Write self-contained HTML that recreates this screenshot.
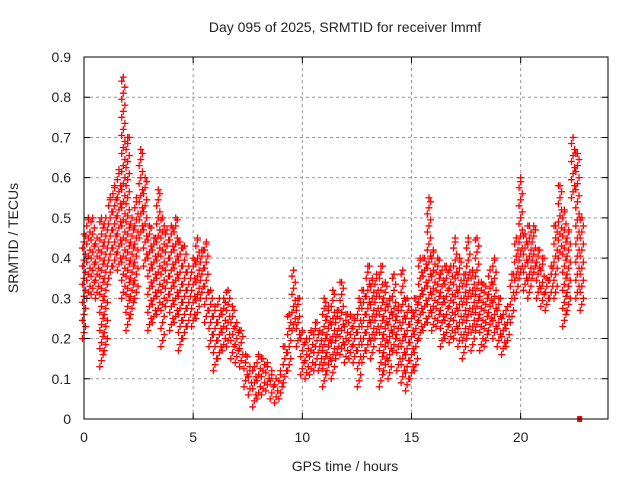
<!DOCTYPE html>
<html><head><meta charset="utf-8"><style>
body{margin:0;background:#fff;width:640px;height:480px;overflow:hidden}
text{font-family:"Liberation Sans",sans-serif;font-size:14px;fill:#222}
</style></head><body>
<svg id="chart" width="640" height="480" xmlns="http://www.w3.org/2000/svg">
<text x="345" y="32" text-anchor="middle">Day 095 of 2025, SRMTID for receiver lmmf</text>
<text x="345" y="471" text-anchor="middle">GPS time / hours</text>
<text transform="translate(18,238) rotate(-90)" text-anchor="middle">SRMTID / TECUs</text>
<g id="grid"></g><g id="marks"></g><g id="axes"></g>
</svg>
<script>
const xTicks=[0,5,10,15,20];
const yTicks=[0,0.1,0.2,0.3,0.4,0.5,0.6,0.7,0.8,0.9];
const yTickLabels=["0","0.1","0.2","0.3","0.4","0.5","0.6","0.7","0.8","0.9"];
const hours=[0,0.2,0.4,0.6,0.8,1,1.2,1.4,1.6,1.8,2,2.2,2.4,2.6,2.8,3,3.2,3.4,3.6,3.8,4,4.2,4.4,4.6,4.8,5,5.2,5.4,5.6,5.8,6,6.2,6.4,6.6,6.8,7,7.2,7.4,7.6,7.8,8,8.2,8.4,8.6,8.8,9,9.2,9.4,9.6,9.8,10,10.2,10.4,10.6,10.8,11,11.2,11.4,11.6,11.8,12,12.2,12.4,12.6,12.8,13,13.2,13.4,13.6,13.8,14,14.2,14.4,14.6,14.8,15,15.2,15.4,15.6,15.8,16,16.2,16.4,16.6,16.8,17,17.2,17.4,17.6,17.8,18,18.2,18.4,18.6,18.8,19,19.2,19.4,19.6,19.8,20,20.2,20.4,20.6,20.8,21,21.2,21.4,21.6,21.8,22,22.2,22.4,22.6,22.8];
const hiVals=[0.46,0.5,0.5,0.45,0.5,0.5,0.55,0.58,0.62,0.85,0.7,0.5,0.55,0.67,0.6,0.48,0.45,0.57,0.5,0.47,0.48,0.5,0.44,0.43,0.38,0.4,0.45,0.42,0.44,0.32,0.28,0.3,0.3,0.32,0.28,0.24,0.22,0.16,0.13,0.13,0.16,0.15,0.14,0.12,0.1,0.12,0.18,0.26,0.37,0.3,0.22,0.2,0.22,0.24,0.22,0.3,0.28,0.32,0.27,0.34,0.26,0.26,0.25,0.3,0.32,0.38,0.35,0.36,0.38,0.34,0.3,0.36,0.28,0.37,0.3,0.27,0.3,0.4,0.4,0.55,0.42,0.4,0.37,0.38,0.38,0.45,0.4,0.36,0.45,0.37,0.45,0.34,0.33,0.37,0.4,0.3,0.26,0.28,0.36,0.45,0.6,0.46,0.48,0.48,0.42,0.4,0.35,0.38,0.48,0.58,0.52,0.47,0.7,0.66,0.5];
const loVals=[0.2,0.3,0.31,0.3,0.13,0.17,0.35,0.38,0.37,0.3,0.22,0.26,0.3,0.45,0.38,0.22,0.24,0.26,0.18,0.28,0.22,0.24,0.17,0.2,0.23,0.23,0.25,0.3,0.24,0.18,0.12,0.15,0.17,0.18,0.15,0.14,0.13,0.08,0.06,0.03,0.05,0.06,0.07,0.05,0.04,0.05,0.09,0.12,0.22,0.18,0.11,0.1,0.11,0.12,0.12,0.08,0.12,0.1,0.15,0.16,0.14,0.15,0.14,0.08,0.14,0.17,0.15,0.2,0.08,0.12,0.1,0.17,0.12,0.09,0.07,0.1,0.12,0.2,0.22,0.24,0.22,0.23,0.18,0.2,0.19,0.2,0.18,0.15,0.2,0.17,0.22,0.17,0.18,0.22,0.2,0.18,0.16,0.18,0.24,0.3,0.35,0.32,0.3,0.35,0.3,0.28,0.27,0.3,0.3,0.4,0.23,0.27,0.55,0.3,0.27];
const zeroMarkHour=[22.7];
const X0=84,X1=608,Y0=419,Y1=57,XMAX=24,YMAX=0.9;
const xs=h=>X0+(X1-X0)*h/XMAX;
const ys=v=>Y0-(Y0-Y1)*v/YMAX;
const NS="http://www.w3.org/2000/svg";
function mk(tag,attrs,parent){const e=document.createElementNS(NS,tag);for(const k in attrs)e.setAttribute(k,attrs[k]);parent.appendChild(e);return e;}
const grid=document.getElementById('grid'),marks=document.getElementById('marks'),axes=document.getElementById('axes');
let tk='';
xTicks.forEach((t,i)=>{
 if(t>0){const l=mk('line',{x1:xs(t),x2:xs(t),y1:Y0,y2:Y1,stroke:'#999','stroke-dasharray':'3,3'},grid);
 
 }
 tk+=`M${xs(t)},${Y0}v-6M${xs(t)},${Y1}v6`;
 const tx=mk('text',{x:xs(t),y:Y0+23,'text-anchor':'middle'},axes);tx.textContent=String(t);
 
 
});
yTicks.forEach((t,i)=>{
 if(t>0){const l=mk('line',{x1:X0,x2:X1,y1:ys(t),y2:ys(t),stroke:'#999','stroke-dasharray':'3,3'},grid);
 
 }
 tk+=`M${X0},${ys(t)}h6M${X1},${ys(t)}h-6`;
 const tx=mk('text',{x:X0-13,y:ys(t)+5,'text-anchor':'end'},axes);tx.textContent=yTickLabels[i];
 
 
});
const ticks=mk('path',{d:tk,stroke:'#000','stroke-width':1},axes);


const box=mk('rect',{x:X0,y:Y1,width:X1-X0,height:Y0-Y1,fill:'none',stroke:'#000','stroke-width':1},axes);


let d='';
hours.forEach((h,i)=>{
 const lo=loVals[i],hi=hiVals[i];
 const cx0=xs(h);
 let k=0;
 for(let v=lo;v<=hi+1e-9;v+=0.015){const cy=ys(v);const cx=cx0+((k%3)-1)*1.6;k++;d+=`M${cx-3.5},${cy}h7M${cx},${cy-3.5}v7`;}
 const cy=ys(hi);d+=`M${cx0-3.5},${cy}h7M${cx0},${cy-3.5}v7`;
});
const pts=mk('path',{d:d,stroke:'#ff0000','stroke-width':1.3,fill:'none'},marks);


zeroMarkHour.forEach(h=>{
 const r=mk('rect',{x:xs(h)-2.5,y:Y0-3,width:5,height:6,fill:'#ff0000'},marks);
 
 
});
</script>
</body></html>
